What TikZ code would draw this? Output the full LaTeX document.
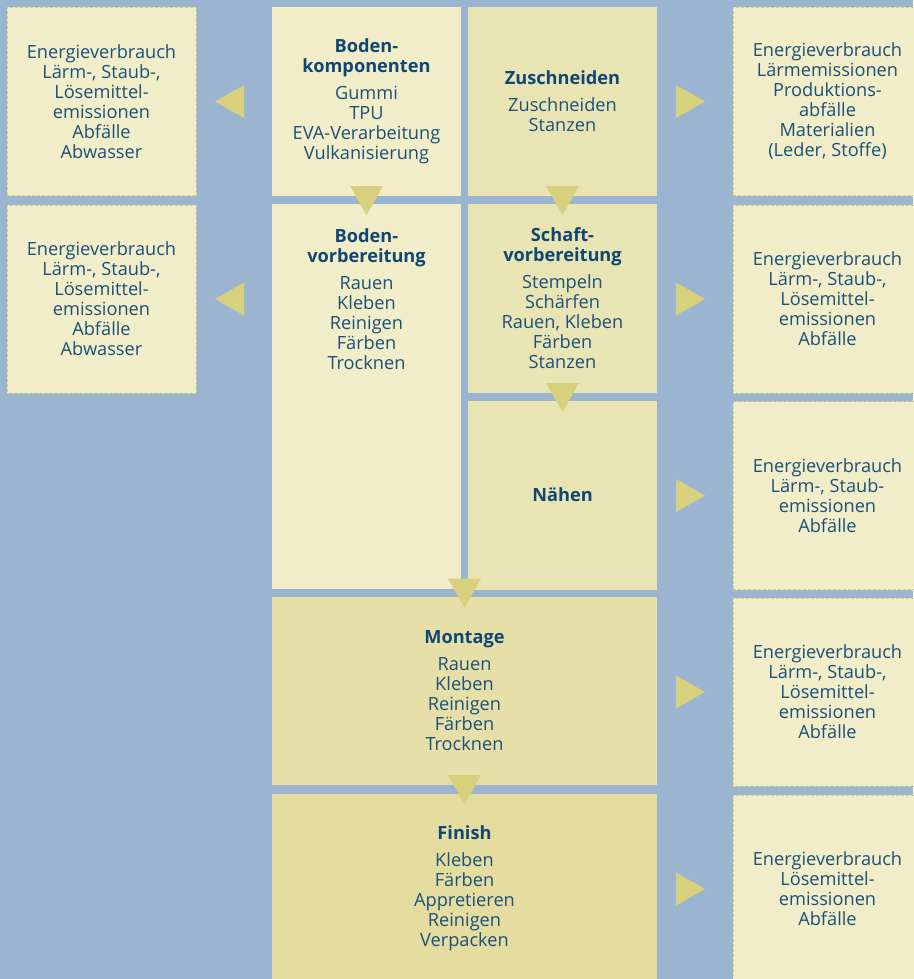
\documentclass[tikz,border=0pt]{standalone}
\usepackage{fontspec}
\setmainfont{Open Sans}
\usetikzlibrary{positioning,shapes.geometric}

\definecolor{bgblue}{RGB}{155,181,209}
\definecolor{paleyel}{RGB}{240,237,200}
\definecolor{midyel}{RGB}{233,228,180}
\definecolor{montyel}{RGB}{230,224,168}
\definecolor{finyel}{RGB}{229,221,160}
\definecolor{triyel}{RGB}{216,208,125}
\definecolor{txtblue}{RGB}{28,80,122}
\definecolor{headblue}{RGB}{16,70,115}

\newcommand{\hd}[1]{\textcolor{headblue}{\textbf{#1}}}

\tikzset{
  every node/.style={font=\fontsize{18.2}{20}\selectfont, text=txtblue, align=center},
  outbox/.style={fill=paleyel, draw=triyel, densely dashed, line width=0.8pt,
    minimum width=189pt, minimum height=188pt, inner sep=0pt},
  stepbox/.style={minimum width=189pt, minimum height=189pt, inner sep=0pt},
  widebox/.style={stepbox, minimum width=385pt},
  tri/.style={isosceles triangle, isosceles triangle stretches, fill=triyel,
    inner sep=0pt, minimum height=29pt, minimum width=33pt},
  tridown/.style={tri, shape border rotate=-90},
  trileft/.style={tri, shape border rotate=180},
  triright/.style={tri, shape border rotate=0},
}

\begin{document}
\begin{tikzpicture}[x=1pt, y=-1pt]
  \fill[bgblue] (0,0) rectangle (913,979);
  \useasboundingbox (0,0) rectangle (913,979);

  % emissions, left
  \node[outbox] (out1) at (101.5,101.5) {Energieverbrauch\\Lärm-, Staub-,\\Lösemittel-\\emissionen\\Abfälle\\Abwasser};
  \node[outbox] (out2) at (101.5,299) {Energieverbrauch\\Lärm-, Staub-,\\Lösemittel-\\emissionen\\Abfälle\\Abwasser};

  % production steps
  \node[stepbox, fill=paleyel] (boko) at (366.5,101.5) {\hd{Boden-}\\\hd{komponenten}\\[7pt]Gummi\\TPU\\EVA-Verarbeitung\\Vulkanisierung};
  \node[stepbox, fill=paleyel, minimum height=385pt] (bovo) at (366.5,396.5) {};
  \node[anchor=north, inner sep=0pt] (bovotext) at ([yshift=-25pt]bovo.north) {\hd{Boden-}\\\hd{vorbereitung}\\[7pt]Rauen\\Kleben\\Reinigen\\Färben\\Trocknen};
  \node[stepbox, fill=midyel] (zusch) at (562.5,101.5) {\hd{Zuschneiden}\\[7pt]Zuschneiden\\Stanzen};
  \node[stepbox, fill=midyel] (schaft) at (562.5,298.5) {\hd{Schaft-}\\\hd{vorbereitung}\\[7pt]Stempeln\\Schärfen\\Rauen, Kleben\\Färben\\Stanzen};
  \node[stepbox, fill=midyel] (naehen) at (562.5,495) {\hd{Nähen}};
  \node[widebox, fill=montyel, minimum height=188pt] (montage) at (464.5,691) {\hd{Montage}\\[7pt]Rauen\\Kleben\\Reinigen\\Färben\\Trocknen};
  \node[widebox, fill=finyel] (finish) at (464.5,888.5) {\hd{Finish}\\[7pt]Kleben\\Färben\\Appretieren\\Reinigen\\Verpacken};

  % emissions, right
  \node[outbox] (out3) at (827.5,101.5) {Energieverbrauch\\Lärmemissionen\\Produktions-\\abfälle\\Materialien\\(Leder, Stoffe)};
  \node[outbox] (out4) at (827.5,299) {Energieverbrauch\\Lärm-, Staub-,\\Lösemittel-\\emissionen\\Abfälle};
  \node[outbox] (out5) at (827.5,495.5) {Energieverbrauch\\Lärm-, Staub-\\emissionen\\Abfälle};
  \node[outbox] (out6) at (827.5,692) {Energieverbrauch\\Lärm-, Staub-,\\Lösemittel-\\emissionen\\Abfälle};
  \node[outbox] (out7) at (827.5,889) {Energieverbrauch\\Lösemittel-\\emissionen\\Abfälle};

  % flow markers
  \node[tridown] (t1) at ([yshift=0.5pt]boko.south) {};
  \node[tridown] (t2) at ([yshift=0.5pt]zusch.south) {};
  \node[tridown] (t3) at ([yshift=0.5pt]schaft.south) {};
  \node[tridown] (t4) at ([yshift=8.5pt]montage.north) {};
  \node[tridown] (t5) at ([yshift=9pt]finish.north) {};
  \node[trileft] (l1) at ([xshift=38pt]out1.east) {};
  \node[trileft] (l2) at ([xshift=38pt]out2.east) {};
  \node[triright] (r1) at ([xshift=-47pt]out3.west) {};
  \node[triright] (r2) at ([xshift=-47pt]out4.west) {};
  \node[triright] (r3) at ([xshift=-47pt]out5.west) {};
  \node[triright] (r4) at ([xshift=-47pt]out6.west) {};
  \node[triright] (r5) at ([xshift=-47pt]out7.west) {};
\end{tikzpicture}
\end{document}
